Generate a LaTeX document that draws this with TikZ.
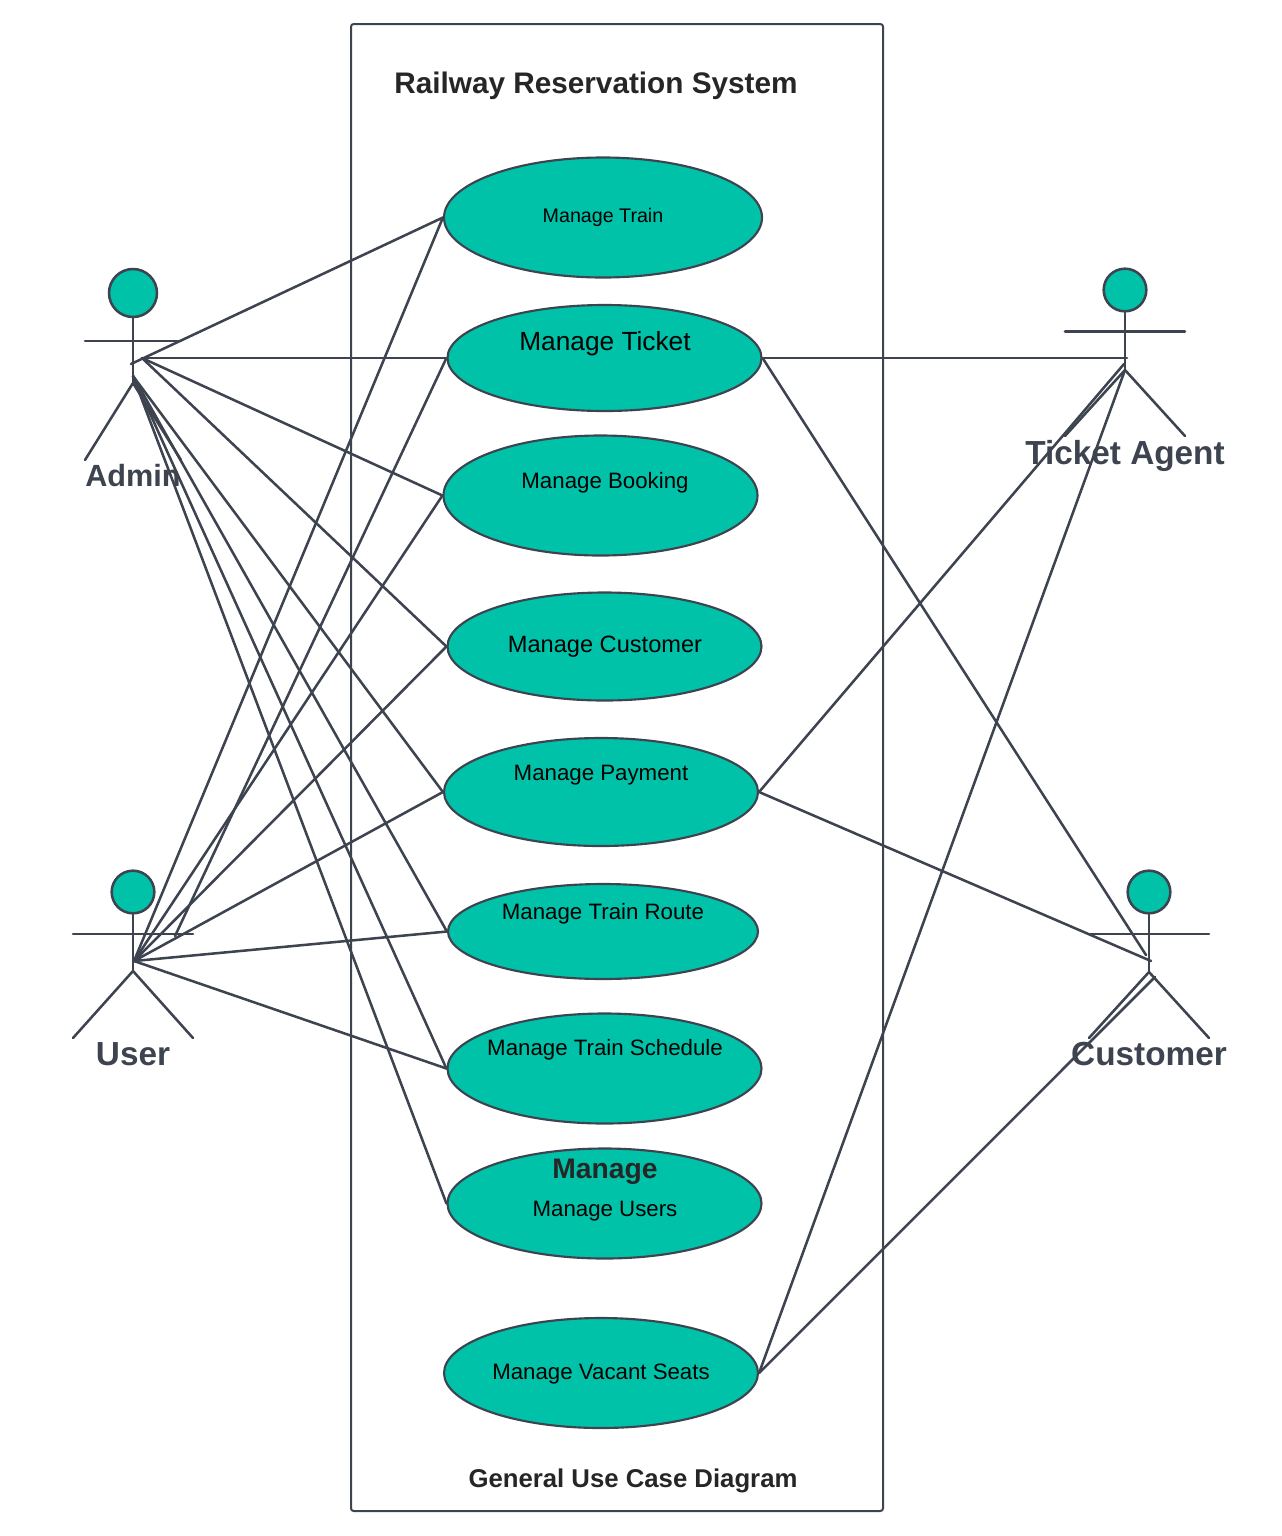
\documentclass[tikz,border=0pt]{standalone}
\usepackage{fontspec}
\setmainfont{Liberation Sans}
\usetikzlibrary{shapes.geometric}
\definecolor{ink}{HTML}{3D4450}
\definecolor{teal}{HTML}{00C2A8}
\definecolor{txt}{HTML}{262626}
\tikzset{
  line/.style={draw=ink,line width=1.9pt,line cap=round,line join=round},
  usecase/.style={ellipse,draw=ink,fill=teal,line width=1.6pt,inner sep=0pt},
  head/.style={circle,draw=ink,fill=teal,line width=1.9pt,inner sep=0pt},
  uctext/.style={inner sep=0pt,text=black,font=\fontsize{16.7}{20}\selectfont},
  actorname/.style={inner sep=0pt,text=ink,font=\fontsize{25}{28}\selectfont\bfseries},
}
\begin{document}
\begin{tikzpicture}[x=0.75pt,y=-0.75pt]
  \useasboundingbox (0,0) rectangle (1282,1536);

  \node[draw=ink,line width=1.5pt,rounded corners=2pt,minimum width=399pt,minimum height=1115.25pt,inner sep=0pt] (system) at (617,767.5) {};
  \node[inner sep=0pt,text=txt,font=\fontsize{22.3}{28}\selectfont\bfseries] (title) at (596,86) {Railway Reservation System};
  \node[inner sep=0pt,text=txt,font=\fontsize{19.3}{24}\selectfont\bfseries] (caption) at (633,1481) {General Use Case Diagram};

  % use cases
  \node[usecase,minimum width=238.5pt,minimum height=90pt] (train) at (603,217.5) {};
  \node[usecase,minimum width=235.5pt,minimum height=79.5pt] (ticket) at (604.5,358) {};
  \node[usecase,minimum width=235.5pt,minimum height=90pt] (booking) at (600.5,495.5) {};
  \node[usecase,minimum width=235.5pt,minimum height=81pt] (customer) at (604.5,646.5) {};
  \node[usecase,minimum width=235.5pt,minimum height=81pt] (payment) at (601,792) {};
  \node[usecase,minimum width=232.5pt,minimum height=71.25pt] (route) at (603,931.5) {};
  \node[usecase,minimum width=235.5pt,minimum height=82.5pt] (schedule) at (604.5,1068.5) {};
  \node[usecase,minimum width=235.5pt,minimum height=82.5pt] (users) at (604.5,1203.5) {};
  \node[usecase,minimum width=235.5pt,minimum height=82.5pt] (vacant) at (601,1373) {};

  \node[uctext,font=\fontsize{14.75}{18}\selectfont] (t1) at (603,217) {Manage Train};
  \node[uctext,font=\fontsize{19.7}{24}\selectfont] (t2) at (605,344) {Manage Ticket};
  \node[uctext] (t3) at (605,483) {Manage Booking};
  \node[uctext,font=\fontsize{17.7}{22}\selectfont] (t4) at (605,647) {Manage Customer};
  \node[uctext] (t5) at (601,775) {Manage Payment};
  \node[uctext] (t6) at (603,914) {Manage Train Route};
  \node[uctext] (t7) at (605,1050) {Manage Train Schedule};
  \node[inner sep=0pt,text=txt,font=\fontsize{21.2}{25}\selectfont\bfseries] (t8a) at (605,1172) {Manage};
  \node[uctext] (t8) at (605,1211) {Manage Users};
  \node[uctext] (t9) at (601,1374) {Manage Vacant Seats};

  % actors
  \node[head,minimum size=36pt] (admin) at (133,293) {};
  \coordinate (adminL) at (85,341);
  \coordinate (adminR) at (181,341);
  \coordinate (adminHip) at (133,383);
  \coordinate (adminF1) at (85,460);
  \coordinate (adminF2) at (181,460);
  \coordinate (adminA) at (131,364);
  \coordinate (adminB) at (142,358);
  \coordinate (adminC) at (133,376);
  \node[actorname,font=\fontsize{23}{28}\selectfont\bfseries] (adminname) at (133,475.5) {Admin};

  \node[head,minimum size=32pt] (user) at (133,892) {};
  \coordinate (userL) at (73,934);
  \coordinate (userR) at (193,934);
  \coordinate (userHip) at (133,971);
  \coordinate (userF1) at (73,1038);
  \coordinate (userF2) at (193,1038);
  \coordinate (userA) at (134,961);
  \coordinate (userB) at (175,936);
  \node[actorname] (username) at (133,1054.5) {User};

  \node[head,minimum size=32pt] (agent) at (1125,290) {};
  \coordinate (agentL) at (1065,331.5);
  \coordinate (agentR) at (1185,331.5);
  \coordinate (agentHip) at (1125,370);
  \coordinate (agentF1) at (1065,436);
  \coordinate (agentF2) at (1185,436);
  \coordinate (agentA) at (1127,358);
  \coordinate (agentB) at (1124,364);
  \coordinate (agentC) at (1125,370);
  \node[actorname] (agentname) at (1125,456) {Ticket Agent};

  \node[head,minimum size=32pt] (cust) at (1149,892) {};
  \coordinate (custL) at (1089,934);
  \coordinate (custR) at (1209,934);
  \coordinate (custHip) at (1149,972);
  \coordinate (custF1) at (1089,1038);
  \coordinate (custF2) at (1209,1038);
  \coordinate (custA) at (1151,961);
  \coordinate (custB) at (1146,955);
  \coordinate (custC) at (1155,977);
  \node[actorname] (custname) at (1149,1054.5) {Customer};

  \foreach \a in {admin,user,agent,cust}{
    \draw[line] (\a.south) -- (\a Hip);
    \draw[line] (\a L) -- (\a R);
    \draw[line] (\a F1) -- (\a Hip) -- (\a F2);
  }

  % associations
  \draw[line] (adminA) -- (train.west);
  \draw[line] (adminB) -- (ticket.west);
  \draw[line] (adminB) -- (booking.west);
  \draw[line] (adminB) -- (customer.west);
  \draw[line] (adminC) -- (payment.west);
  \draw[line] (adminC) -- (route.west);
  \draw[line] (adminC) -- (schedule.west);
  \draw[line] (adminC) -- (users.west);

  \draw[line] (userA) -- (train.west);
  \draw[line] (userB) -- (ticket.west);
  \draw[line] (userA) -- (booking.west);
  \draw[line] (userA) -- (customer.west);
  \draw[line] (userA) -- (payment.west);
  \draw[line] (userA) -- (route.west);
  \draw[line] (userA) -- (schedule.west);

  \draw[line] (agentA) -- (ticket.east);
  \draw[line] (agentB) -- (payment.east);
  \draw[line] (agentC) -- (vacant.east);

  \draw[line] (custB) -- (ticket.east);
  \draw[line] (custA) -- (payment.east);
  \draw[line] (custC) -- (vacant.east);
\end{tikzpicture}
\end{document}
